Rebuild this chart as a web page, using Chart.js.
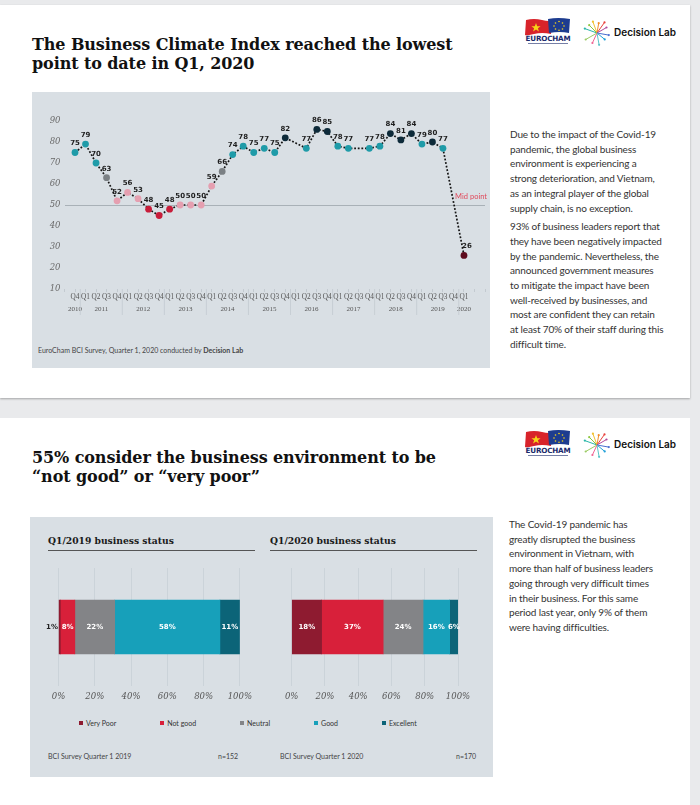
<!DOCTYPE html>
<html><head><meta charset="utf-8">
<script src="https://cdn.jsdelivr.net/npm/chart.js@4.4.1/dist/chart.umd.min.js"></script>
<style>
html,body{margin:0;padding:0;}
body{width:700px;height:805px;position:relative;background:#e9eaec;overflow:hidden;font-family:Lato,'Open Sans',sans-serif;}
.slide{position:absolute;left:0;width:690px;background:#fff;}
#s1{top:5px;height:393px;box-shadow:0 1px 2px rgba(0,0,0,0.3);}
#s2{top:418px;height:387px;}
.title{position:absolute;left:32px;font-family:'DejaVu Serif',serif;font-weight:bold;font-size:16px;line-height:18.5px;color:#111;white-space:nowrap;letter-spacing:-0.1px;}
.panel{position:absolute;background:#d9dfe4;}
.txt{position:absolute;left:510px;font-size:10px;letter-spacing:-0.15px;line-height:14.7px;color:#333;white-space:nowrap;}
.txt p{margin:0 0 4px 0;}
.abs{position:absolute;white-space:nowrap;}
.hdr{position:absolute;font-family:'DejaVu Serif',serif;font-weight:bold;font-size:9.2px;color:#1a1a1a;border-bottom:1.5px solid #555;padding-bottom:4px;width:207px;}
.foot{position:absolute;font-size:7px;color:#444;white-space:nowrap;}
#legend{position:absolute;left:79px;top:719px;display:flex;gap:44px;font-size:7px;color:#333;}
#legend span.sw{display:inline-block;width:4px;height:4px;margin-right:3px;vertical-align:1px;}
.dl{position:absolute;font-family:Inter,sans-serif;font-weight:600;font-size:10px;color:#111;}
canvas{position:absolute;}
</style>
</head>
<body>
<div class="slide" id="s1"></div>
<div class="slide" id="s2"></div>

<div class="title" style="top:36px;">The Business Climate Index reached the lowest<br>point to date in Q1, 2020</div>
<div class="panel" style="left:32px;top:92px;width:458px;height:276px;"></div>
<canvas id="c1" width="458" height="240" style="left:32px;top:92px;width:458px;height:240px;"></canvas>
<div class="foot" style="left:38px;top:346px;">EuroCham BCI Survey, Quarter 1, 2020 conducted by <b>Decision Lab</b></div>

<div class="txt" style="top:127px;">
<p>Due to the impact of the Covid-19<br>pandemic, the global business<br>environment is experiencing a<br>strong deterioration, and Vietnam,<br>as an integral player of the global<br>supply chain, is no exception.</p>
<p>93% of business leaders report that<br>they have been negatively impacted<br>by the pandemic. Nevertheless, the<br>announced government measures<br>to mitigate the impact have been<br>well-received by businesses, and<br>most are confident they can retain<br>at least 70% of their staff during this<br>difficult time.</p>
</div>

<div class="title" style="top:449px;">55% consider the business environment to be<br>“not good” or “very poor”</div>
<div class="panel" style="left:30px;top:517px;width:463px;height:260px;"></div>
<div class="hdr" style="left:48px;top:535px;">Q1/2019 business status</div>
<div class="hdr" style="left:270px;top:535px;">Q1/2020 business status</div>
<canvas id="c2" width="220" height="145" style="left:38px;top:560px;width:220px;height:145px;"></canvas>
<canvas id="c3" width="220" height="145" style="left:270px;top:560px;width:220px;height:145px;"></canvas>
<div id="legend"></div>
<div class="foot" style="left:48px;top:752px;">BCI Survey Quarter 1 2019</div>
<div class="foot" style="left:218px;top:752px;">n=152</div>
<div class="foot" style="left:280px;top:752px;">BCI Survey Quarter 1 2020</div>
<div class="foot" style="left:456px;top:752px;">n=170</div>

<div class="txt" style="top:517px;left:509px;">The Covid-19 pandemic has<br>greatly disrupted the business<br>environment in Vietnam, with<br>more than half of business leaders<br>going through very difficult times<br>in their business. For this same<br>period last year, only 9% of them<br>were having difficulties.</div>

<div id="logo1"></div>
<div id="logo2"></div>

<script>
// ---------- DATA ----------
const quarterLabels = ['Q4','Q1','Q2','Q3','Q4','Q1','Q2','Q3','Q4','Q1','Q2','Q3','Q4','Q1','Q2','Q3','Q4','Q1','Q2','Q3','Q4','Q1','Q2','Q3','Q4','Q1','Q2','Q3','Q4','Q1','Q2','Q3','Q4','Q1','Q2','Q3','Q4','Q1'];
const yearLabels = ['2010','2011','2012','2013','2014','2015','2016','2017','2018','2019','2020'];
const quartersPerYear = [1,4,4,4,4,4,4,4,4,4,1];
const bciValues = [75,79,70,63,52,56,53,48,45,48,50,50,50,59,66,74,78,75,77,75,82,null,77,86,85,78,77,null,77,78,84,81,84,79,80,77,null,26];
const yTicks = [10,20,30,40,50,60,70,80,90];
const midPoint = 50;

const statusCategories = ['Very Poor','Not good','Neutral','Good','Excellent'];
const status2019 = [1,8,22,58,11];
const status2020 = [18,37,24,16,6];
const pctTicks = [0,20,40,60,80,100];

// ---------- STYLES ----------
const statusColors = ['#8e1b30','#d8203a','#838487','#17a0ba','#0c6478'];
function pointColor(v){
  if(v==null) return 'rgba(0,0,0,0)';
  if(v>=80) return '#0d2a39';
  if(v>=70) return '#1f9ba8';
  if(v>=60) return '#7b8084';
  if(v>=50) return '#e59fb0';
  if(v>=40) return '#c81d3a';
  return '#5e0b1d';
}

// padded category axis (blank slots at the ends for the plot margin)
const xLabels = [''].concat(quarterLabels, ['','']);
const xValues = [null].concat(bciValues, [null,null]);

const valueLabelPlugin = {
  id:'valueLabels',
  afterDatasetsDraw(chart){
    const ctx = chart.ctx, meta = chart.getDatasetMeta(0);
    ctx.save();
    ctx.font = 'bold 7px "DejaVu Sans"';
    ctx.fillStyle = '#1e1e1e';
    ctx.textAlign = 'center';
    ctx.textBaseline = 'middle';
    meta.data.forEach((pt,i)=>{
      const v = xValues[i];
      if(v==null) return;
      const dx = (i===xValues.length-3) ? 3 : 0;
      ctx.fillText(String(v), pt.x+dx, pt.y-9);
    });
    ctx.restore();
  }
};
const yearPlugin = {
  id:'years',
  afterDraw(chart){
    const ctx = chart.ctx, xs = chart.scales.x, ca = chart.chartArea;
    ctx.save();
    ctx.font = '7px "Liberation Serif"';
    ctx.fillStyle = '#555';
    ctx.textAlign = 'center';
    ctx.textBaseline = 'middle';
    ctx.strokeStyle = '#c3cad0';
    ctx.lineWidth = 0.8;
    let idx = 1;
    yearLabels.forEach((y,k)=>{
      const n = quartersPerYear[k];
      const a = xs.getPixelForValue(idx), b = xs.getPixelForValue(idx+n-1);
      ctx.fillText(y, (a+b)/2, ca.bottom+20);
      if(k>0){
        const sep = (xs.getPixelForValue(idx-1)+a)/2;
        ctx.beginPath(); ctx.moveTo(sep, ca.bottom); ctx.lineTo(sep, ca.bottom+26); ctx.stroke();
      }
      idx += n;
    });
    // Mid point label
    const ym = chart.scales.y.getPixelForValue(midPoint);
    ctx.font = '7.5px Lato';
    ctx.fillStyle = '#e04a5c';
    ctx.textAlign = 'right';
    ctx.fillText('Mid point', ca.right+2, ym-8);
    ctx.restore();
  }
};

new Chart(document.getElementById('c1'), {
  type:'line',
  data:{labels:xLabels, datasets:[{
    data:xValues, spanGaps:true, tension:0,
    borderColor:'#151515', borderWidth:1.7, borderDash:[1.8,1.8],
    pointRadius:3.4, pointHoverRadius:3.4, pointBorderWidth:0,
    pointBackgroundColor:xValues.map(pointColor), pointBorderColor:xValues.map(pointColor)
  }]},
  options:{
    responsive:false, animation:false,
    layout:{padding:{top:29,right:5,bottom:13,left:0}},
    plugins:{legend:{display:false},tooltip:{enabled:false}},
    scales:{
      x:{
        grid:{drawOnChartArea:false,tickLength:3,color:'#c3cad0'},
        border:{display:false},
        ticks:{autoSkip:false,maxRotation:0,minRotation:0,padding:1,font:{family:'Liberation Serif',size:7.3},color:'#555'},
        afterFit(s){s.height=30;}
      },
      y:{
        min:yTicks[0], max:yTicks[yTicks.length-1],
        afterBuildTicks(s){ s.ticks = yTicks.map(v=>({value:v})); },
        ticks:{padding:4,font:{family:'DejaVu Serif',style:'italic',size:8.5},color:'#6a6a6a'},
        grid:{drawTicks:false,lineWidth:1,color:c=>(c.tick && c.tick.value===midPoint)?'#a9b1b7':'rgba(0,0,0,0)'},
        border:{display:false},
        afterFit(s){s.width=32.5;}
      }
    }
  },
  plugins:[valueLabelPlugin, yearPlugin]
});

const barLabelPlugin = {
  id:'barLabels',
  afterDatasetsDraw(chart){
    const ctx = chart.ctx;
    ctx.save();
    ctx.font = 'bold 7px "DejaVu Sans"';
    ctx.textBaseline = 'middle';
    chart.data.datasets.forEach((ds,i)=>{
      const el = chart.getDatasetMeta(i).data[0];
      const v = ds.data[0];
      if(v < 3){
        ctx.fillStyle = '#222'; ctx.textAlign='right';
        ctx.fillText(v+'%', el.base-1, el.y);
      } else {
        ctx.fillStyle = '#fff'; ctx.textAlign='center';
        const right = Math.min(el.x, chart.chartArea.right);
        ctx.fillText(v+'%', (el.base+right)/2, el.y);
      }
    });
    ctx.restore();
  }
};

function barChart(id, values, padLeft, padRight){
  return new Chart(document.getElementById(id), {
    type:'bar',
    data:{labels:[''], datasets:statusCategories.map((c,i)=>({
      label:c, data:[values[i]], backgroundColor:statusColors[i], barThickness:54, borderWidth:0
    }))},
    options:{
      indexAxis:'y', responsive:false, animation:false,
      layout:{padding:{top:8,right:padRight,bottom:0,left:padLeft}},
      plugins:{legend:{display:false},tooltip:{enabled:false}},
      scales:{
        x:{stacked:true,min:pctTicks[0],max:pctTicks[pctTicks.length-1],
          afterBuildTicks(s){ s.ticks = pctTicks.map(v=>({value:v})); },
          grid:{drawTicks:false,color:'#c8cfd5',lineWidth:0.8},
          border:{display:false},
          ticks:{padding:6,font:{family:'DejaVu Serif',style:'italic',size:8.5},color:'#555',callback:v=>v+'%'},
          afterFit(s){s.height=19;}
        },
        y:{stacked:true,display:false}
      }
    },
    plugins:[barLabelPlugin]
  });
}
barChart('c2', status2019, 20.5, 16.5);
barChart('c3', status2020, 21.7, 32);

// legend
const lg = document.getElementById('legend');
statusCategories.forEach((c,i)=>{
  const d = document.createElement('div');
  d.innerHTML = '<span class="sw" style="background:'+statusColors[i]+'"></span>'+c;
  lg.appendChild(d);
});

// logos
function logo(el, top){
  el.innerHTML =
  '<svg class="abs" style="left:522px;top:'+top+'px" width="56" height="34" viewBox="0 0 56 34">'+
  '<path d="M4 4 Q12 2 20 4 T30 4 L29 18 Q20 16 12 18 T3 19 Z" fill="#d8232a"/>'+
  '<path d="M26 3 Q36 1 48 3 L47 17 Q38 15 27 17 Z" fill="#1d3c8f"/>'+
  '<polygon points="14,7 15.2,10.3 18.6,10.3 15.9,12.3 16.9,15.5 14,13.6 11.1,15.5 12.1,12.3 9.4,10.3 12.8,10.3" fill="#f7d417"/>'+
  '<g fill="#f7d417"><circle cx="37" cy="5.5" r=".8"/><circle cx="40.5" cy="7" r=".8"/><circle cx="42" cy="10" r=".8"/><circle cx="40.5" cy="13" r=".8"/><circle cx="37" cy="14.3" r=".8"/><circle cx="33.5" cy="13" r=".8"/><circle cx="32" cy="10" r=".8"/><circle cx="33.5" cy="7" r=".8"/></g>'+
  '<text x="26" y="25" text-anchor="middle" font-family="DejaVu Sans" font-weight="bold" font-size="7.2" fill="#1b2a6b" letter-spacing="-0.2">EUROCHAM</text>'+
  '<rect x="6" y="27" width="40" height="1" fill="#1b2a6b" opacity=".6"/>'+
  '</svg>'+
  '<svg class="abs" style="left:583px;top:'+(top+3)+'px" width="28" height="28" viewBox="-14 -14 28 28">'+
  rays()+
  '</svg>'+
  '<div class="dl" style="left:614px;top:'+(top+10)+'px">Decision Lab</div>';
}
function rays(){
  const cols=['#2ab7a9','#8cc63f','#f2c12e','#f28c28','#e8413c','#b04a9c','#4a6fd0','#1d9fd8','#5cc6c9','#f06292','#9ccc65'];
  const angs=[-160,-135,-110,-80,-55,-30,10,40,80,115,150];
  const lens=[13,11,12,10,13,11,12,10,12,11,13];
  let s='';
  angs.forEach((a,i)=>{
    const r=a*Math.PI/180, x=Math.cos(r)*lens[i], y=Math.sin(r)*lens[i];
    s+='<line x1="0" y1="0" x2="'+x.toFixed(1)+'" y2="'+y.toFixed(1)+'" stroke="'+cols[i]+'" stroke-width="1"/>';
    s+='<circle cx="'+x.toFixed(1)+'" cy="'+y.toFixed(1)+'" r="1.1" fill="'+cols[i]+'"/>';
  });
  return s;
}
logo(document.getElementById('logo1'), 16);
logo(document.getElementById('logo2'), 428);
</script>
</body></html>
